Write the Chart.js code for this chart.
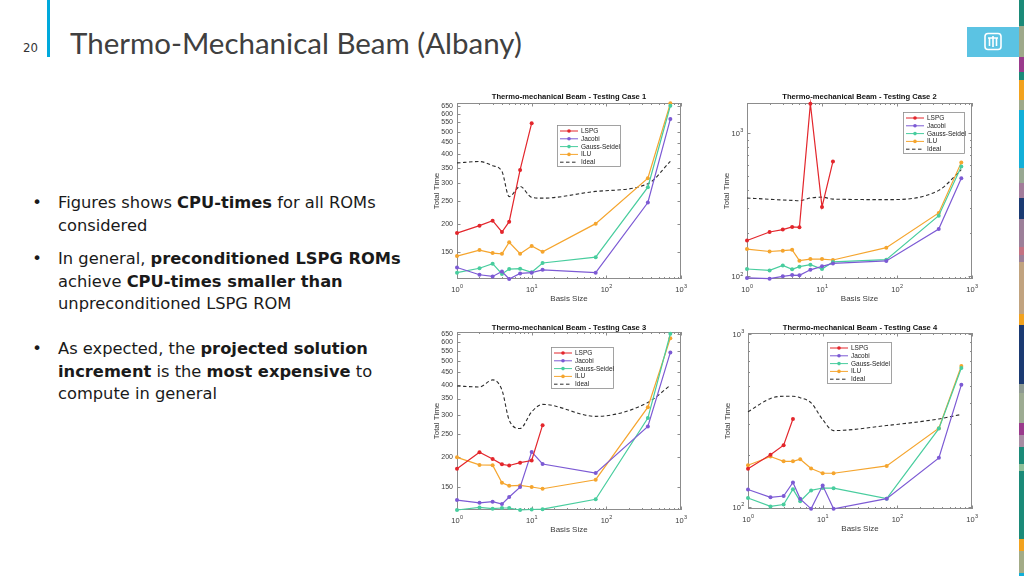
<!DOCTYPE html>
<html>
<head>
<meta charset="utf-8">
<script src="https://cdn.jsdelivr.net/npm/chart.js@4/dist/chart.umd.min.js"></script>
<style>
  body { margin: 0; width: 1024px; height: 576px; overflow: hidden; background: #fff; position: relative; }
  .abs { position: absolute; }
  .slide-title { left: 70px; top: 25px; font-family: Lato, "Open Sans", sans-serif; font-size: 29.5px; color: #404040; white-space: nowrap; }
  .page-num { left: 23px; top: 40px; font-family: "Liberation Sans Narrow", "DejaVu Sans Condensed", sans-serif; font-size: 13px; color: #333; }
  .bullet { left: 30px; width: 380px; font-family: "DejaVu Sans", "Noto Sans", sans-serif; font-size: 16.3px; line-height: 22.5px; color: #1a1a1a; }
  .bullet .dot { position: absolute; left: 0; top: 0; width: 14px; text-align: center; }
  .bullet .txt { position: absolute; left: 28px; top: 0; white-space: nowrap; }
  .bullet b { font-weight: bold; }
  .panel { position: absolute; }
</style>
</head>
<body>

<div class="abs" style="left:47px;top:0;width:3px;height:57px;background:#00a9dc"></div>
<div class="abs page-num">20</div>
<div class="abs slide-title">Thermo-Mechanical Beam (Albany)</div>

<div class="abs" style="left:967px;top:27px;width:52px;height:30px;background:#5bc3e3">
  <svg width="52" height="30" viewBox="0 0 52 30">
    <rect x="18" y="6.5" width="16" height="16" rx="3" ry="3" fill="none" stroke="#fff" stroke-width="1.6"/>
    <path d="M21 11 L31 11 M26 9 L26 20 M22.5 11 L22.5 19 M29.5 11 L29.5 19" stroke="#fff" stroke-width="1.6" fill="none"/>
  </svg>
</div>

<div class="abs bullet" style="top:192px"><span class="dot">•</span><span class="txt">Figures shows <b>CPU-times</b> for all ROMs<br>considered</span></div>
<div class="abs bullet" style="top:248px"><span class="dot">•</span><span class="txt">In general, <b>preconditioned LSPG ROMs</b><br>achieve <b>CPU-times smaller than</b><br>unpreconditioned LSPG ROM</span></div>
<div class="abs bullet" style="top:338px"><span class="dot">•</span><span class="txt">As expected, the <b>projected solution</b><br><b>increment</b> is the <b>most expensive</b> to<br>compute in general</span></div>

<div id="strip"></div>

<script>
// basis sizes used on every panel
var basisSize = [1, 2, 3, 4, 5, 7, 10, 14, 72, 360, 720];
var seriesNames = ['LSPG', 'Jacobi', 'Gauss-Seidel', 'ILU', 'Ideal'];
var seriesColors = ['#e3262c', '#7c5ad4', '#48cd9e', '#f5a52e', '#2b2b2b'];

// axis ticks (exponent labels are drawn as 10 + raised power)
var xMajorTicks = [1, 10, 100, 1000];
var xMajorPowers = ['0', '1', '2', '3'];
var xMinorTicks = [2, 3, 4, 5, 6, 7, 8, 9, 20, 30, 40, 50, 60, 70, 80, 90, 200, 300, 400, 500, 600, 700, 800, 900];
var plainYTicks = [150, 200, 250, 300, 350, 400, 450, 500, 550, 600, 650];
var decadeYTicks = [100, 1000];
var decadeYPowers = ['2', '3'];
var decadeYMinor = [200, 300, 400, 500, 600, 700, 800, 900];

// Testing case 1
var lspg1 = [182, 196, 206, 184, 204, 342, 546];
var jacobi1 = [129, 120, 118, 124, 115, 121.6, 122.5, 126, 122.5, 247, 569];
var gauss1 = [122.5, 128, 134, 121, 127, 127.5, 123, 135, 143, 288, 650];
var ilu1 = [144.6, 153.5, 149, 148, 166, 148, 160, 151, 200, 315, 666];
var ideal1 = [367, 372, 357, 337, 262, 290, 260, 258, 276, 298, 373];

// Testing case 2
var lspg2 = [178, 204, 212, 221, 220, 1600, 305, 634];
var jacobi2 = [97.4, 96.3, 100, 102, 101.6, 111, 117.4, 123, 128, 214, 483];
var gauss2 = [112.5, 110, 119, 112, 116.8, 120.6, 112.5, 126, 130.7, 265, 585];
var ilu2 = [155, 149, 151, 153, 128.6, 132, 132, 130, 158.5, 277, 624];
var ideal2 = [352, 345, 341, 339, 337, 352, 357, 346, 343, 398, 555];

// Testing case 3
var lspg3 = [178.5, 209, 196, 186, 184, 189, 193, 271];
var jacobi3 = [132, 128.6, 130, 127, 136, 149.5, 209.6, 186.7, 171, 267.6, 545];
var gauss3 = [120, 123, 121.5, 122.3, 122.3, 120, 120.6, 121, 133, 290, 652];
var ilu3 = [199, 185, 184.5, 156, 151.3, 152, 149.7, 147.2, 160.5, 322, 625];
var ideal3 = [395, 391, 418.6, 380, 284.5, 262.5, 308, 331, 295, 337, 397.5];

// Testing case 4
var lspg4 = [166.5, 200.5, 228, 323];
var jacobi4 = [126.5, 114, 116, 139, 111.7, 97.8, 133.3, 97.8, 112, 192.6, 508];
var gauss4 = [113, 101, 103.6, 127, 108.3, 125, 129, 128.7, 112, 284, 636];
var ilu4 = [174.7, 196, 184, 184, 189, 167, 157, 157, 173, 285.6, 653];
var ideal4 = [355, 424, 437, 437, 428, 400, 320, 276.7, 296, 323, 343];

// layout of the four panels (page pixels)
var panels = [
  { title: 'Thermo-mechanical Beam - Testing Case 1', l: 457, t: 103, r: 681, b: 279, titleY: 97,
    yMin: 115, yMax: 668, yTicks: plainYTicks, yPowers: null, yMinor: [],
    legend: [557, 125, 64, 42], series: [lspg1, jacobi1, gauss1, ilu1, ideal1] },
  { title: 'Thermo-mechanical Beam - Testing Case 2', l: 747, t: 103, r: 972, b: 279, titleY: 97,
    yMin: 95.8, yMax: 1620, yTicks: decadeYTicks, yPowers: decadeYPowers, yMinor: decadeYMinor,
    legend: [903, 112, 62, 42], series: [lspg2, jacobi2, gauss2, ilu2, ideal2] },
  { title: 'Thermo-mechanical Beam - Testing Case 3', l: 457, t: 332, r: 681, b: 510, titleY: 328,
    yMin: 120, yMax: 663, yTicks: plainYTicks, yPowers: null, yMinor: [],
    legend: [551, 347, 63, 42], series: [lspg3, jacobi3, gauss3, ilu3, ideal3] },
  { title: 'Thermo-mechanical Beam - Testing Case 4', l: 748, t: 333, r: 972, b: 509, titleY: 328,
    yMin: 97.6, yMax: 1012, yTicks: decadeYTicks, yPowers: decadeYPowers, yMinor: decadeYMinor,
    legend: [827, 342, 65, 42], series: [lspg4, jacobi4, gauss4, ilu4, ideal4] }
];

// coloured strip on the right edge
var stripParts = [
  [0, 26, '#1b8a78'], [26, 57, '#9ea98a'], [57, 72, '#9a3a8c'], [72, 80, '#1b8a78'],
  [80, 100, '#f2a21e'], [100, 110, '#9ea98a'], [110, 168, '#12afd8'], [168, 183, '#98a892'],
  [183, 198, '#a27c9a'], [198, 219, '#1b3a72'], [219, 247, '#9c7f99'], [247, 255, '#c47282'],
  [255, 262, '#9c7f99'], [262, 314, '#c1a37f'], [314, 325, '#f2a21e'], [325, 384, '#1b3a72'],
  [384, 393, '#8e9a92'], [393, 423, '#9dab92'], [423, 435, '#9a3a8c'], [435, 447, '#a88ca3'],
  [447, 464, '#1b8a78'], [464, 471, '#8fbf98'], [471, 539, '#1b8a78'], [539, 551, '#f2a21e'],
  [551, 573, '#a3ab86'], [573, 576, '#12afd8']
];

var strip = document.getElementById('strip');
stripParts.forEach(function (s) {
  var d = document.createElement('div');
  d.className = 'abs';
  d.style.cssText = 'left:1019px;width:5px;top:' + s[0] + 'px;height:' + (s[1] - s[0]) + 'px;background:' + s[2];
  strip.appendChild(d);
});

var axisFont = '"Liberation Sans", Arial, sans-serif';
var labelColor = '#3a3a3a';

// "10" with a raised exponent, anchored by align ('center' or 'right')
function drawPower(ctx, power, x, y, align) {
  ctx.font = '7.5px ' + axisFont;
  var wb = ctx.measureText('10').width;
  ctx.font = '5.5px ' + axisFont;
  var we = ctx.measureText(power).width;
  var x0 = align === 'right' ? x - wb - we : x - (wb + we) / 2;
  ctx.textAlign = 'left';
  ctx.textBaseline = 'middle';
  ctx.font = '7.5px ' + axisFont;
  ctx.fillText('10', x0, y);
  ctx.font = '5.5px ' + axisFont;
  ctx.fillText(power, x0 + wb + 0.3, y - 3.2);
}

// box, inward tick marks, power labels and title, like MATLAB
var matlabBox = {
  id: 'matlabBox',
  beforeDatasetsDraw: function (chart) {
    var o = chart.options.plugins.matlabBox;
    var a = chart.chartArea, ctx = chart.ctx;
    var xs = chart.scales.x, ys = chart.scales.y;
    ctx.save();
    ctx.strokeStyle = '#8c8c8c';
    ctx.lineWidth = 1;
    ctx.strokeRect(a.left + 0.5, a.top + 0.5, a.right - a.left - 1, a.bottom - a.top - 1);
    function xt(v, len) {
      var px = Math.round(xs.getPixelForValue(v)) + 0.5;
      ctx.beginPath();
      ctx.moveTo(px, a.bottom); ctx.lineTo(px, a.bottom - len);
      ctx.moveTo(px, a.top); ctx.lineTo(px, a.top + len);
      ctx.stroke();
    }
    function yt(v, len) {
      var py = Math.round(ys.getPixelForValue(v)) + 0.5;
      if (py < a.top || py > a.bottom) return;
      ctx.beginPath();
      ctx.moveTo(a.left, py); ctx.lineTo(a.left + len, py);
      ctx.moveTo(a.right, py); ctx.lineTo(a.right - len, py);
      ctx.stroke();
    }
    xMajorTicks.forEach(function (v) { xt(v, 3.5); });
    xMinorTicks.forEach(function (v) { xt(v, 2); });
    o.yTicks.forEach(function (v) { yt(v, 3.5); });
    o.yMinor.forEach(function (v) { yt(v, 2); });

    ctx.fillStyle = labelColor;
    xMajorTicks.forEach(function (v, i) {
      drawPower(ctx, xMajorPowers[i], xs.getPixelForValue(v), a.bottom + 10.5, 'center');
    });
    if (o.yPowers) {
      o.yTicks.forEach(function (v, i) {
        drawPower(ctx, o.yPowers[i], a.left - 4, ys.getPixelForValue(v) + 1, 'right');
      });
    }

    ctx.fillStyle = '#111';
    ctx.font = 'bold 7.6px ' + axisFont;
    ctx.textAlign = 'center';
    ctx.textBaseline = 'middle';
    ctx.fillText(o.title, (a.left + a.right) / 2, o.titleY);
    ctx.restore();
  }
};

// legend box drawn inside the axes
var legendBox = {
  id: 'legendBox',
  afterDraw: function (chart) {
    var o = chart.options.plugins.legendBox;
    var ctx = chart.ctx;
    var x = o.x, y = o.y, w = o.w, h = o.h;
    ctx.save();
    ctx.fillStyle = '#fff';
    ctx.fillRect(x, y, w, h);
    ctx.strokeStyle = '#8c8c8c';
    ctx.lineWidth = 0.8;
    ctx.strokeRect(x + 0.5, y + 0.5, w - 1, h - 1);
    ctx.font = '6.5px ' + axisFont;
    ctx.textBaseline = 'middle';
    chart.data.datasets.forEach(function (ds, i) {
      var ry = y + 6 + i * 7.8;
      ctx.strokeStyle = ds.borderColor;
      ctx.lineWidth = 1;
      ctx.setLineDash(ds.borderDash || []);
      ctx.beginPath();
      ctx.moveTo(x + 3, ry); ctx.lineTo(x + 21, ry);
      ctx.stroke();
      ctx.setLineDash([]);
      if (ds.pointRadius > 0) {
        ctx.fillStyle = ds.borderColor;
        ctx.beginPath();
        ctx.arc(x + 12, ry, 1.8, 0, Math.PI * 2);
        ctx.fill();
      }
      ctx.fillStyle = '#222';
      ctx.fillText(ds.label, x + 24, ry + 0.3);
    });
    ctx.restore();
  }
};

function toPoints(values) {
  return values.map(function (v, i) { return { x: basisSize[i], y: v }; });
}

function buildPanel(p) {
  var L = 40, B = 28, R = 10, T = 14;
  var left = p.l - L, top = p.t - T;

  var holder = document.createElement('div');
  holder.className = 'panel';
  holder.style.left = left + 'px';
  holder.style.top = top + 'px';
  holder.style.width = (p.r - p.l + L + R) + 'px';
  holder.style.height = (p.b - p.t + T + B) + 'px';
  var canvas = document.createElement('canvas');
  holder.appendChild(canvas);
  document.body.appendChild(holder);

  var datasets = p.series.map(function (vals, i) {
    var ideal = seriesNames[i] === 'Ideal';
    return {
      label: seriesNames[i],
      data: toPoints(vals),
      borderColor: seriesColors[i],
      backgroundColor: seriesColors[i],
      borderWidth: ideal ? 1.1 : 1.2,
      borderDash: ideal ? [3.5, 2.5] : [],
      pointRadius: ideal ? 0 : 2,
      pointHoverRadius: 0,
      pointBorderWidth: 0,
      tension: ideal ? 0.4 : 0,
      cubicInterpolationMode: ideal ? 'monotone' : 'default',
      clip: 4
    };
  });

  new Chart(canvas, {
    type: 'line',
    data: { datasets: datasets },
    options: {
      responsive: true,
      maintainAspectRatio: false,
      animation: false,
      layout: { padding: { left: 0, top: T, right: R, bottom: 0 } },
      plugins: {
        legend: { display: false },
        tooltip: { enabled: false },
        title: { display: false },
        matlabBox: { yTicks: p.yTicks, yMinor: p.yMinor, yPowers: p.yPowers, title: p.title, titleY: p.titleY - top },
        legendBox: { x: p.legend[0] - left, y: p.legend[1] - top, w: p.legend[2], h: p.legend[3] }
      },
      scales: {
        x: {
          type: 'logarithmic', min: 1, max: 1000,
          grid: { display: false, drawTicks: false, tickLength: 0 }, border: { display: false },
          afterBuildTicks: function (s) {
            s.ticks = xMajorTicks.map(function (v) { return { value: v }; });
          },
          afterFit: function (s) { s.height = B; },
          ticks: { display: false },
          title: {
            display: true, text: 'Basis Size', color: labelColor,
            font: { family: axisFont, size: 8 }, padding: { top: 0, bottom: 3.5 }
          }
        },
        y: {
          type: 'logarithmic', min: p.yMin, max: p.yMax,
          grid: { display: false, drawTicks: false, tickLength: 0 }, border: { display: false },
          afterBuildTicks: function (s) {
            s.ticks = p.yTicks.map(function (v) { return { value: v }; });
          },
          afterFit: function (s) { s.width = L; },
          ticks: {
            display: !p.yPowers,
            autoSkip: false, padding: 4, color: labelColor,
            font: { family: axisFont, size: 7 },
            callback: function (v) { return String(v); }
          },
          title: {
            display: true, text: 'Total Time', color: labelColor,
            font: { family: axisFont, size: 8 }, padding: { top: 15, bottom: 0 }
          }
        }
      }
    },
    plugins: [matlabBox, legendBox]
  });
}

panels.forEach(buildPanel);
</script>
</body>
</html>
